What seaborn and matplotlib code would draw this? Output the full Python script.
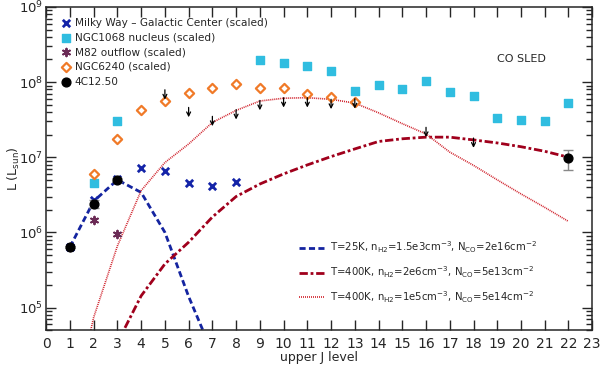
import numpy as np
import pandas as pd
import matplotlib
matplotlib.use("Agg")
import matplotlib.pyplot as plt
import seaborn as sns
from matplotlib.ticker import LogLocator, MultipleLocator, NullFormatter

mw_j = [1, 2, 3, 4, 5, 6, 7, 8]
mw_l = [6.4e5, 2.7e6, 5.1e6, 7.2e6, 6.6e6, 4.6e6, 4.1e6, 4.7e6]

n1068_j = [2, 3, 9, 10, 11, 12, 13, 14, 15, 16, 17, 18, 19, 20, 21, 22]
n1068_l = [4.6e6, 3.0e7, 1.94e8, 1.8e8, 1.63e8, 1.4e8, 7.7e7, 9.2e7, 8.1e7,
           1.03e8, 7.4e7, 6.5e7, 3.3e7, 3.16e7, 3.0e7, 5.2e7]

m82_j = [1, 2, 3]
m82_l = [6.4e5, 1.46e6, 9.5e5]

n6240_j = [2, 3, 4, 5, 6, 7, 8, 9, 10, 11, 12, 13]
n6240_l = [5.9e6, 1.77e7, 4.2e7, 5.6e7, 7.1e7, 8.3e7, 9.3e7, 8.4e7, 8.3e7,
           7.0e7, 6.3e7, 5.4e7]

c4_j = [1, 2, 3, 22]
c4_l = [6.4e5, 2.4e6, 5.0e6, 9.7e6]
c4_lo = [0.2e5, 0.3e6, 0.3e6, 2.9e6]
c4_hi = [0.2e5, 0.3e6, 0.3e6, 2.9e6]

# 4C12.50 upper limits
lim_j = [5, 6, 7, 8, 9, 10, 11, 12, 13, 16, 18]
lim_l = [7.9e7, 4.6e7, 3.5e7, 4.3e7, 5.7e7, 6.2e7, 6.2e7, 5.9e7, 6.0e7, 2.5e7, 1.8e7]

# LVG model curves
mod1_j = [1, 2, 3, 4, 5, 6, 7]
mod1_l = [6.4e5, 2.6e6, 5.0e6, 3.4e6, 1.0e6, 1.4e5, 2.5e4]

mod2_j = list(range(3, 23))
mod2_l = [3.4e4, 1.43e5, 3.8e5, 7.4e5, 1.6e6, 3.0e6, 4.4e6, 6.0e6, 7.9e6, 1.02e7,
          1.29e7, 1.62e7, 1.76e7, 1.85e7, 1.85e7, 1.7e7, 1.55e7, 1.38e7, 1.2e7, 1.0e7]

mod3_j = list(range(1, 23))
mod3_l = [3.0e3, 7.4e4, 6.6e5, 3.6e6, 8.5e6, 1.5e7, 2.9e7, 4.2e7, 5.6e7, 6.1e7, 6.2e7,
          5.9e7, 5.25e7, 3.9e7, 2.8e7, 2.04e7, 1.17e7, 7.8e6, 5.0e6, 3.25e6, 2.15e6, 1.4e6]

mod1_lab = r'T=25K, n$_{\rm H2}$=1.5e3cm$^{-3}$, N$_{\rm CO}$=2e16cm$^{-2}$'
mod2_lab = r'T=400K, n$_{\rm H2}$=2e6cm$^{-3}$, N$_{\rm CO}$=5e13cm$^{-2}$'
mod3_lab = r'T=400K, n$_{\rm H2}$=1e5cm$^{-3}$, N$_{\rm CO}$=5e14cm$^{-2}$'

sns.set_style("ticks")
plt.rcParams['font.family'] = ['DejaVu Sans']

fig = plt.figure(figsize=(6, 3.66), dpi=100)
ax = fig.add_axes([0.077, 0.098, 0.91, 0.883])
ax.set_yscale('log')

# models
for jj, ll, lab, col, ls, lw in [
        (mod1_j, mod1_l, mod1_lab, '#1424a0', (0, (2.2, 1.2)), 2.0),
        (mod2_j, mod2_l, mod2_lab, '#a0001c', (0, (3, 1, 1, 1)), 2.0),
        (mod3_j, mod3_l, mod3_lab, '#d0202a', (0, (0.6, 0.6)), 1.2)]:
    d = pd.DataFrame({'J': jj, 'L': ll})
    sns.lineplot(data=d, x='J', y='L', ax=ax, color=col, lw=lw, linestyle=ls, label=lab)
line_handles = ax.get_lines()[:3]

# observations
pts = []
pts.append(ax.scatter(mw_j, mw_l, marker='x', s=28, color='#1424a8', linewidths=2,
                      label='Milky Way \u2013 Galactic Center (scaled)', zorder=4))
pts.append(ax.scatter(n1068_j, n1068_l, marker='s', s=30, color='#30bde0',
                      label='NGC1068 nucleus (scaled)', zorder=4))
pts.append(ax.scatter(m82_j, m82_l, marker=(6, 2, 0), s=30, color='#6a2a55', linewidths=1.4,
                      label='M82 outflow (scaled)', zorder=4))
pts.append(ax.scatter(n6240_j, n6240_l, marker='D', s=22, facecolor='white',
                      edgecolor='#f07a28', linewidths=1.6, label='NGC6240 (scaled)', zorder=4))
ax.errorbar(c4_j, c4_l, yerr=[c4_lo, c4_hi], fmt='none', ecolor='#888888', elinewidth=1,
            capsize=3.5, zorder=5)
pts.append(ax.scatter(c4_j, c4_l, marker='o', s=40, color='black', label='4C12.50', zorder=6))

for j, l in zip(lim_j, lim_l):
    ax.annotate('', xy=(j, l * 0.74), xytext=(j, l),
                arrowprops=dict(arrowstyle='->', color='black', lw=0.9,
                                shrinkA=0, shrinkB=0, mutation_scale=7), zorder=6)

ax.set_xlim(0, 23)
ax.set_ylim(5e4, 1e9)
ax.xaxis.set_major_locator(MultipleLocator(1))
ax.yaxis.set_major_locator(LogLocator(base=10, numticks=10))
ax.yaxis.set_minor_locator(LogLocator(base=10, subs=np.arange(2, 10), numticks=20))
ax.yaxis.set_minor_formatter(NullFormatter())
ax.tick_params(axis='both', which='both', direction='in', top=True, right=True, width=1)
ax.tick_params(axis='x', labelsize=10, pad=5)
ax.tick_params(axis='y', labelsize=9.5, pad=2)
ax.tick_params(axis='both', which='major', length=7)
ax.tick_params(axis='y', which='minor', length=4)
for s in ax.spines.values():
    s.set_linewidth(1.1)

ax.set_xlabel('upper J level', fontsize=9, labelpad=0)
ax.set_ylabel(r'L (L$_{\rm sun}$)', fontsize=9)
ax.yaxis.set_label_coords(-0.045, 0.5)

ax.text(0.826, 0.83, 'CO SLED', transform=ax.transAxes, fontsize=8)

leg1 = ax.legend(handles=pts, loc='upper left', frameon=False, fontsize=7.6,
                 handletextpad=0.2, borderaxespad=0.3, labelspacing=0.45,
                 handlelength=1.2, bbox_to_anchor=(0.012, 0.99))
ax.add_artist(leg1)
ax.legend(handles=line_handles, loc='lower right', frameon=False, fontsize=7.3,
          handlelength=2.6, handletextpad=0.4, labelspacing=0.9,
          bbox_to_anchor=(0.915, 0.05))

fig.savefig('out.png', dpi=100)
